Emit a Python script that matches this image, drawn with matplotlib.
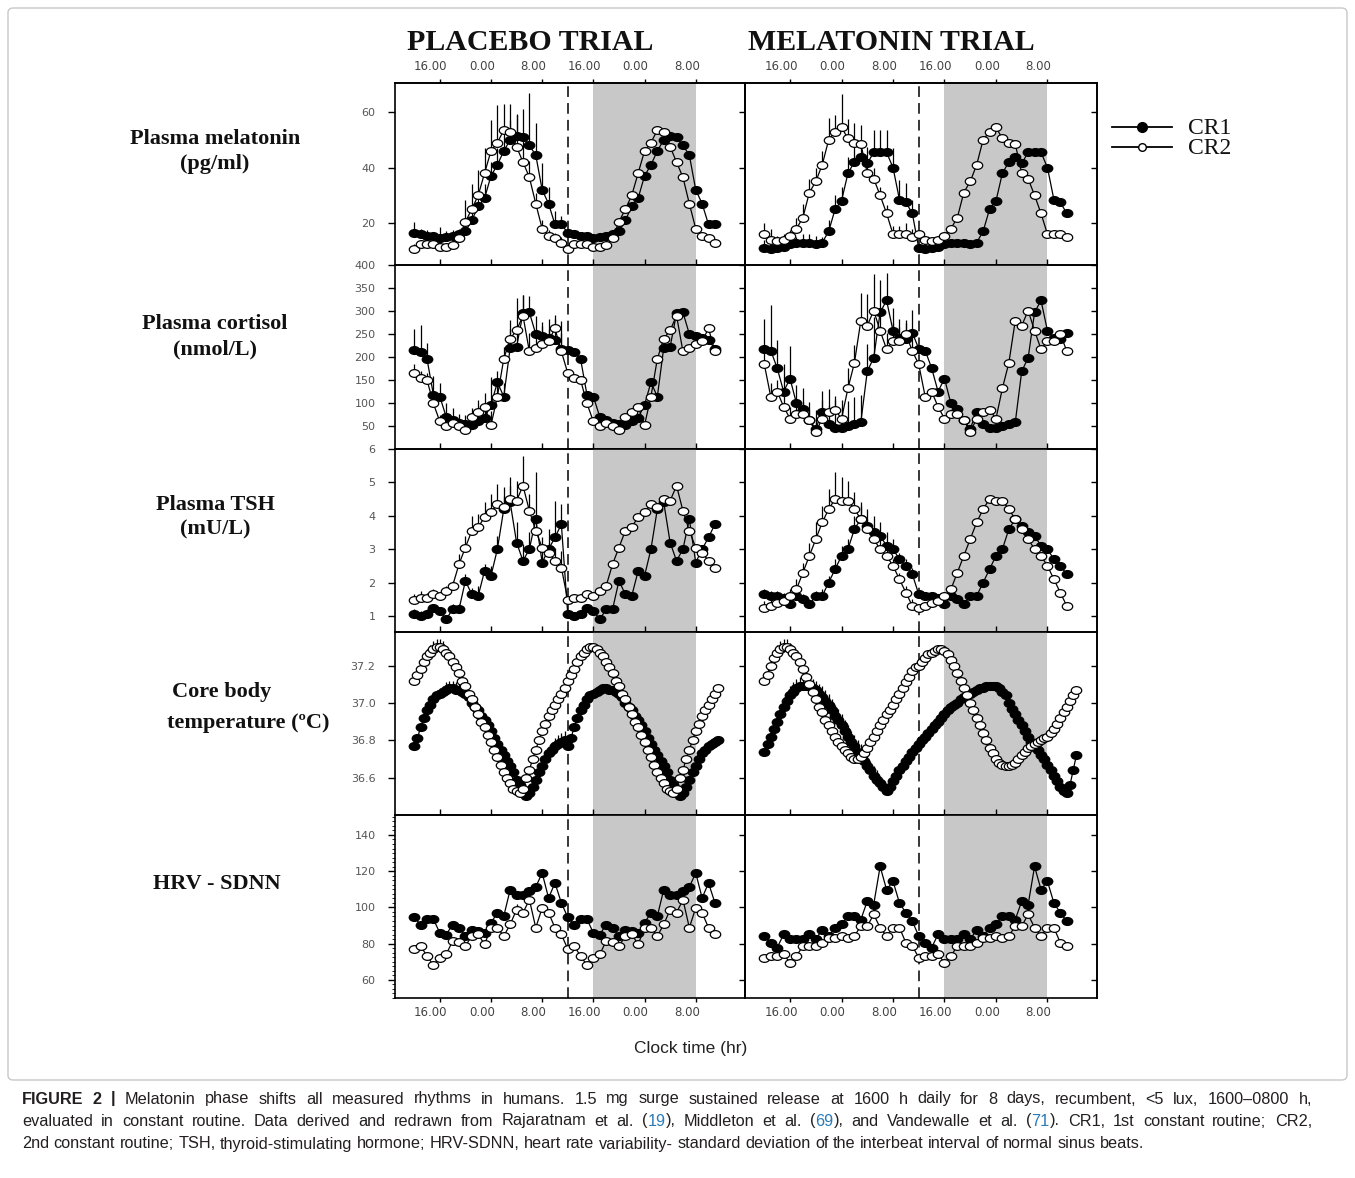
import re
import numpy as np
import matplotlib
matplotlib.use('Agg')
import matplotlib.pyplot as plt
from matplotlib.lines import Line2D
from matplotlib.patches import FancyBboxPatch
from matplotlib.path import Path
from matplotlib.transforms import Affine2D, ScaledTranslation

# ---- data (clock hours; 24 = midnight, data double-plotted 24 h later) ----
hours = np.arange(12, 36, 1.0)
temp_hours = np.arange(12, 36, 0.5)
temp_hours_b = np.arange(36, 61, 0.5)

xtick_pos = [16, 24, 32, 40, 48, 56]
xtick_lab = ['16.00', '0.00', '8.00', '16.00', '0.00', '8.00']

# plasma melatonin (pg/ml)
pl_mel_cr1 = [16.5, 16, 15.5, 15.5, 14.5, 15, 15.5, 16, 17, 21, 26, 29, 37, 41, 46, 50, 51.5, 51, 48, 44.5, 32, 27, 19.5, 19.5]
pl_mel_cr2 = [10.5, 12.5, 12.5, 12.5, 11.5, 11.5, 12, 14.5, 20.5, 25, 30, 38, 46, 49, 53.5, 53, 47.5, 42, 36.5, 27, 18, 15.5, 14.5, 13]
pl_mel_cr1_err = [4, 2, 2, 1, 4, 2, 2, 2, 2, 4, 5, 5, 5, 6, 6, 7, 8, 10, 19, 11.5, 9.5, 6, 5, 3]
pl_mel_cr2_err = [2, 1, 1, 1, 1, 1, 2, 3, 8, 9, 9, 9, 11, 13.5, 9.5, 10, 11.5, 8, 6, 4, 3, 2, 2, 2]
ml_mel_cr1 = [11, 10.5, 11, 11.5, 12.5, 13, 13, 13, 12.5, 13, 17, 25, 28, 38, 42, 44, 41.5, 45.5, 45.5, 45.5, 40, 28.5, 27.5, 23.5]
ml_mel_cr2 = [16, 14, 13.5, 14, 15.5, 18, 22, 31, 35, 41, 50, 53, 54.5, 50.5, 49, 48.5, 38, 36, 30, 23.5, 16, 16, 16, 15]
ml_mel_cr1_err = [3, 1, 2, 1, 2, 2, 3, 3, 3, 2, 4, 5, 5, 6, 6, 6, 6, 8, 8, 8, 7, 7, 7, 5]
ml_mel_cr2_err = [4, 4, 2, 2, 2, 4, 5, 5, 5, 5, 8, 6, 12, 7, 7, 7, 4, 4, 3, 3, 3, 3, 4, 3]

# plasma cortisol (nmol/L)
pl_cort_cr1 = [216, 210, 196, 118, 114, 70, 64, 56, 54, 52, 60, 68, 96, 145, 114, 220, 222, 295, 297, 250, 246, 242, 236, 218]
pl_cort_cr2 = [165, 154, 150, 99, 60, 50, 56, 50, 41, 70, 81, 92, 52, 114, 196, 240, 258, 290, 212, 220, 228, 235, 262, 212]
pl_cort_cr1_err = [45, 60, 35, 40, 30, 30, 25, 20, 20, 25, 25, 30, 60, 25, 30, 40, 45, 40, 35, 40, 30, 40, 55, 60]
pl_cort_cr2_err = [20, 15, 15, 15, 15, 15, 15, 15, 20, 20, 25, 30, 30, 40, 25, 40, 70, 45, 40, 35, 40, 25, 20, 40]
ml_cort_cr1 = [218, 214, 176, 125, 153, 99, 88, 63, 44, 81, 55, 46, 46, 50, 54, 58, 169, 198, 297, 323, 257, 242, 240, 253]
ml_cort_cr2 = [184, 114, 125, 92, 66, 77, 77, 63, 37, 66, 81, 85, 66, 132, 187, 279, 268, 301, 257, 217, 235, 235, 250, 213]
ml_cort_cr1_err = [65, 100, 60, 60, 70, 40, 45, 40, 40, 45, 40, 60, 45, 55, 60, 60, 60, 90, 70, 60, 50, 40, 40, 50]
ml_cort_cr2_err = [30, 30, 25, 25, 25, 25, 25, 25, 30, 40, 50, 30, 40, 45, 40, 60, 70, 80, 40, 35, 40, 30, 25, 30]

# plasma TSH (mU/L)
pl_tsh_cr1 = [1.05, 1.0, 1.05, 1.25, 1.15, 0.9, 1.2, 1.2, 2.05, 1.65, 1.6, 2.35, 2.2, 3.0, 4.2, 4.4, 3.2, 2.65, 3.0, 3.9, 2.6, 3.0, 3.35, 3.75]
pl_tsh_cr2 = [1.47, 1.55, 1.55, 1.65, 1.6, 1.75, 1.9, 2.55, 3.05, 3.55, 3.65, 3.97, 4.1, 4.35, 4.25, 4.5, 4.45, 4.9, 4.15, 3.55, 3.05, 2.9, 2.65, 2.45]
pl_tsh_cr1_err = [0.15, 0.15, 0.15, 0.1, 0.1, 0.1, 0.15, 0.15, 0.2, 0.2, 0.3, 0.2, 0.3, 0.4, 0.4, 0.5, 0.6, 0.5, 0.5, 1.4, 0.5, 0.6, 1.1, 0.6]
pl_tsh_cr2_err = [0.2, 0.2, 0.15, 0.15, 0.1, 0.15, 0.15, 0.3, 0.35, 0.45, 0.4, 0.45, 0.55, 0.6, 0.6, 0.65, 0.6, 0.9, 0.5, 0.4, 0.3, 0.3, 0.4, 0.5]
ml_tsh_cr1 = [1.65, 1.6, 1.6, 1.55, 1.35, 1.6, 1.5, 1.35, 1.6, 1.6, 2.0, 2.4, 2.8, 3.0, 3.6, 3.9, 3.7, 3.5, 3.4, 3.1, 3.0, 2.7, 2.5, 2.25]
ml_tsh_cr2 = [1.25, 1.3, 1.4, 1.45, 1.6, 1.8, 2.3, 2.8, 3.3, 3.8, 4.2, 4.5, 4.45, 4.45, 4.2, 3.9, 3.6, 3.3, 3.0, 2.8, 2.5, 2.1, 1.7, 1.3]
ml_tsh_cr1_err = [0.15, 0.15, 0.15, 0.15, 0.15, 0.15, 0.15, 0.15, 0.15, 0.2, 0.2, 0.3, 0.3, 0.3, 0.4, 0.5, 0.5, 0.5, 0.4, 0.4, 0.3, 0.2, 0.2, 0.2]
ml_tsh_cr2_err = [0.2, 0.2, 0.2, 0.2, 0.2, 0.3, 0.3, 0.4, 0.5, 0.5, 0.6, 0.8, 0.7, 0.6, 0.5, 0.4, 0.3, 0.3, 0.3, 0.2, 0.2, 0.2, 0.2, 0.2]

# core body temperature (deg C), half-hourly
pl_temp_cr1 = [36.77, 36.81, 36.87, 36.92, 36.96, 36.99, 37.02, 37.04, 37.05, 37.06,
               37.07, 37.08, 37.08, 37.07, 37.07, 37.06, 37.05, 37.03, 37.00, 36.98,
               36.96, 36.93, 36.91, 36.88, 36.85, 36.81, 36.78, 36.75, 36.72, 36.69,
               36.66, 36.63, 36.59, 36.56, 36.52, 36.50, 36.52, 36.55, 36.59, 36.63,
               36.66, 36.70, 36.73, 36.75, 36.77, 36.78, 36.79, 36.80]
pl_temp_cr2 = [37.12, 37.15, 37.18, 37.22, 37.25, 37.27, 37.29, 37.30, 37.30, 37.29,
               37.27, 37.25, 37.22, 37.19, 37.16, 37.12, 37.09, 37.05, 37.02, 36.98,
               36.94, 36.90, 36.87, 36.83, 36.79, 36.75, 36.71, 36.67, 36.63, 36.60,
               36.57, 36.54, 36.53, 36.52, 36.54, 36.60, 36.64, 36.70, 36.75, 36.80,
               36.85, 36.89, 36.93, 36.96, 36.99, 37.02, 37.05, 37.08]
pl_temp_cr1_err = [0.01, 0.01, 0.01, 0.02, 0.02, 0.02, 0.02, 0.03, 0.03, 0.03,
                   0.04, 0.04, 0.04, 0.04, 0.03, 0.03, 0.03, 0.03, 0.03, 0.03,
                   0.03, 0.03, 0.03, 0.03, 0.03, 0.03, 0.03, 0.03, 0.03, 0.03,
                   0.02, 0.02, 0.02, 0.02, 0.02, 0.02, 0.02, 0.02, 0.02, 0.02,
                   0.03, 0.03, 0.03, 0.04, 0.04, 0.05, 0.05, 0.05]
pl_temp_cr2_err = [0.01, 0.01, 0.02, 0.03, 0.04, 0.04, 0.04, 0.04, 0.04, 0.04,
                   0.03, 0.03, 0.03, 0.02, 0.02, 0.02, 0.02, 0.02, 0.02, 0.03,
                   0.03, 0.03, 0.04, 0.04, 0.05, 0.05, 0.05, 0.06, 0.06, 0.06,
                   0.06, 0.05, 0.04, 0.03, 0.02, 0.02, 0.02, 0.02, 0.02, 0.02,
                   0.02, 0.02, 0.02, 0.02, 0.02, 0.02, 0.02, 0.02]
ml_temp_cr1 = [36.74, 36.78, 36.82, 36.86, 36.90, 36.94, 36.98, 37.01, 37.04, 37.06,
               37.08, 37.09, 37.09, 37.09, 37.09, 37.08, 37.07, 37.05, 37.03, 37.01,
               36.99, 36.96, 36.93, 36.91, 36.88, 36.85, 36.82, 36.79, 36.77, 36.74,
               36.72, 36.69, 36.66, 36.64, 36.61, 36.59, 36.57, 36.55, 36.53, 36.55,
               36.58, 36.61, 36.64, 36.66, 36.69, 36.71, 36.74, 36.76]
ml_temp_cr2 = [37.12, 37.15, 37.20, 37.24, 37.27, 37.29, 37.30, 37.30, 37.29, 37.27,
               37.25, 37.22, 37.18, 37.14, 37.10, 37.06, 37.02, 36.98, 36.95, 36.91,
               36.88, 36.85, 36.82, 36.79, 36.77, 36.75, 36.73, 36.71, 36.70, 36.70,
               36.71, 36.73, 36.76, 36.79, 36.82, 36.85, 36.88, 36.91, 36.94, 36.96,
               36.99, 37.02, 37.05, 37.08, 37.11, 37.14, 37.17, 37.19]
ml_temp_cr1_err = [0.02, 0.02, 0.03, 0.03, 0.04, 0.04, 0.05, 0.05, 0.05, 0.05,
                   0.05, 0.05, 0.05, 0.05, 0.05, 0.05, 0.05, 0.05, 0.06, 0.06,
                   0.06, 0.06, 0.06, 0.06, 0.06, 0.06, 0.06, 0.06, 0.06, 0.06,
                   0.06, 0.06, 0.06, 0.05, 0.05, 0.05, 0.04, 0.04, 0.03, 0.03,
                   0.03, 0.03, 0.03, 0.03, 0.03, 0.02, 0.02, 0.02]
ml_temp_cr2_err = [0.02, 0.03, 0.03, 0.04, 0.04, 0.04, 0.04, 0.04, 0.03, 0.03,
                   0.03, 0.03, 0.02, 0.02, 0.02, 0.02, 0.02, 0.02, 0.02, 0.02,
                   0.02, 0.02, 0.02, 0.02, 0.02, 0.02, 0.02, 0.02, 0.02, 0.02,
                   0.02, 0.02, 0.02, 0.02, 0.02, 0.02, 0.02, 0.02, 0.02, 0.02,
                   0.02, 0.02, 0.02, 0.02, 0.02, 0.02, 0.02, 0.02]
# melatonin-trial temperature: second plotted day differs from the first
ml_temp_cr1_b = [36.78, 36.80, 36.82, 36.84, 36.86, 36.88, 36.90, 36.92, 36.94, 36.96,
                 36.98, 36.99, 37.00, 37.02, 37.03, 37.04, 37.05, 37.06, 37.07, 37.08,
                 37.08, 37.09, 37.09, 37.09, 37.09, 37.08, 37.06, 37.04, 37.00, 36.97,
                 36.94, 36.91, 36.88, 36.85, 36.82, 36.79, 36.77, 36.75, 36.72, 36.70,
                 36.67, 36.64, 36.61, 36.58, 36.55, 36.53, 36.52, 36.56, 36.64, 36.72]
ml_temp_cr2_b = [37.20, 37.22, 37.24, 37.26, 37.27, 37.28, 37.29, 37.29, 37.28, 37.26,
                 37.23, 37.20, 37.16, 37.12, 37.08, 37.04, 37.00, 36.96, 36.92, 36.88,
                 36.84, 36.80, 36.76, 36.73, 36.70, 36.68, 36.67, 36.66, 36.66, 36.67,
                 36.68, 36.70, 36.72, 36.74, 36.76, 36.77, 36.78, 36.79, 36.80, 36.81,
                 36.82, 36.84, 36.86, 36.89, 36.92, 36.95, 36.98, 37.01, 37.04, 37.07]

# HRV - SDNN (ms)
pl_hrv_cr1 = [94.5, 90.5, 93.5, 93.5, 86, 85, 90.5, 88.8, 84.2, 87.8, 86.9, 86, 91.5, 97, 95.2, 109.8, 107, 107, 109, 111.3, 119, 105.2, 113.5, 102.5]
pl_hrv_cr2 = [77, 78.7, 73.2, 68.1, 72.3, 74.1, 81.4, 80.9, 78.7, 84.2, 85.1, 79.6, 88.8, 88.8, 84.2, 90.6, 98.8, 97, 104.3, 88.8, 99.7, 97, 88.8, 85.1]
pl_hrv_cr1_err = [1, 1, 1, 1, 1, 2, 2, 1, 1, 1, 1, 1, 2, 2, 2, 2, 2, 2, 2, 2, 2, 2, 2, 2]
pl_hrv_cr2_err = [1, 1, 1, 1, 1, 1, 1, 1, 1, 1, 1, 1, 1, 1, 1, 1, 3, 1, 1, 1, 1, 1, 1, 1]
ml_hrv_cr1 = [84.2, 80.5, 77.8, 85.1, 82.3, 82.3, 82.3, 85.1, 82.3, 87.8, 84.2, 88.8, 90.6, 95.2, 95.2, 93.3, 103.4, 101.6, 122.6, 109.8, 114.4, 102.5, 97, 92.4]
ml_hrv_cr2 = [72.3, 73.2, 73.2, 74.1, 69.5, 73.2, 78.7, 78.7, 78.7, 80.5, 83.3, 83.3, 84.2, 83.3, 84.2, 89.7, 89.7, 96.1, 88.8, 84.2, 88.8, 88.8, 80.5, 78.7]
ml_hrv_cr1_err = [1, 1, 1, 1, 1, 1, 1, 2, 1, 2, 1, 1, 1, 1, 1, 1, 2, 1, 2, 1, 1, 1, 1, 1]
ml_hrv_cr2_err = [1, 1, 1, 1, 1, 1, 1, 1, 1, 1, 1, 1, 1, 1, 1, 1, 1, 1, 1, 1, 1, 1, 1, 1]

row_labels = [['Plasma melatonin', '(pg/ml)'], ['Plasma cortisol', '(nmol/L)'],
              ['Plasma TSH', '(mU/L)'], ['Core body', 'temperature (\u00baC)'], ['HRV - SDNN']]
row_ylim = [(4.9, 70.5), (0, 400), (0.52, 6), (36.4, 37.38), (50, 151)]
row_yticks = [[20, 40, 60], [50, 100, 150, 200, 250, 300, 350, 400], [1, 2, 3, 4, 5, 6],
              [36.6, 36.8, 37.0, 37.2], [60, 80, 100, 120, 140]]
row_yticklabels = [None, None, None, ['36.6', '36.8', '37.0', '37.2'], None]

caption_lines = [
    'FIGURE 2 | Melatonin phase shifts all measured rhythms in humans. 1.5 mg surge sustained '
    'release at 1600 h daily for 8 days, recumbent, <5 lux, 1600\u20130800 h,',
    'evaluated in constant routine. Data derived and redrawn from Rajaratnam et al. ({19}), '
    'Middleton et al. ({69}), and Vandewalle et al. ({71}). CR1, 1st constant routine; CR2,',
    '2nd constant routine; TSH, thyroid-stimulating hormone; HRV-SDNN, heart rate variability- '
    'standard deviation of the interbeat interval of normal sinus beats.',
]

# ---- figure ----
W, H = 1355, 1178
fig = plt.figure(figsize=(W / 100, H / 100), dpi=100)


def fx(px):
    return px / W


def fy(py):
    return 1 - py / H


ELLIPSE = Path.unit_circle().transformed(Affine2D().scale(1.35, 1.0))
SHADE = '#c8c8c8'


def draw_panel(ax, t, cr1, cr2, e1, e2, tb=None, cr1b=None, cr2b=None):
    ax.axvspan(40, 56, color=SHADE, lw=0, zorder=0)
    ax.axvline(36, color='black', lw=1.1, ls=(0, (7, 4)), zorder=1)
    t = np.asarray(t)
    z = np.zeros(len(t))
    ax.errorbar(t, cr1, yerr=[z, e1], fmt='none', ecolor='black', elinewidth=0.9, capsize=0, zorder=2)
    ax.errorbar(t, cr2, yerr=[z, e2], fmt='none', ecolor='black', elinewidth=0.9, capsize=0, zorder=2)
    if tb is None:
        tb, cr1b, cr2b = t + 24, cr1, cr2
    tt = np.concatenate([t, tb])
    ax.plot(tt, np.concatenate([cr1, cr1b]), color='black', lw=0.9, marker=ELLIPSE, ms=7.5,
            mfc='black', mec='black', zorder=3)
    ax.plot(tt, np.concatenate([cr2, cr2b]), color='black', lw=0.9, marker=ELLIPSE, ms=7.5,
            mfc='white', mec='black', mew=0.9, zorder=4)


panels = [
    [(hours, pl_mel_cr1, pl_mel_cr2, pl_mel_cr1_err, pl_mel_cr2_err),
     (hours, ml_mel_cr1, ml_mel_cr2, ml_mel_cr1_err, ml_mel_cr2_err)],
    [(hours, pl_cort_cr1, pl_cort_cr2, pl_cort_cr1_err, pl_cort_cr2_err),
     (hours, ml_cort_cr1, ml_cort_cr2, ml_cort_cr1_err, ml_cort_cr2_err)],
    [(hours, pl_tsh_cr1, pl_tsh_cr2, pl_tsh_cr1_err, pl_tsh_cr2_err),
     (hours, ml_tsh_cr1, ml_tsh_cr2, ml_tsh_cr1_err, ml_tsh_cr2_err)],
    [(temp_hours, pl_temp_cr1, pl_temp_cr2, pl_temp_cr1_err, pl_temp_cr2_err),
     (temp_hours, ml_temp_cr1, ml_temp_cr2, ml_temp_cr1_err, ml_temp_cr2_err,
      temp_hours_b, ml_temp_cr1_b, ml_temp_cr2_b)],
    [(hours, pl_hrv_cr1, pl_hrv_cr2, pl_hrv_cr1_err, pl_hrv_cr2_err),
     (hours, ml_hrv_cr1, ml_hrv_cr2, ml_hrv_cr1_err, ml_hrv_cr2_err)],
]

col_x = [(395, 745), (745, 1097)]
row_y = [(83, 265), (265, 449), (449, 632), (632, 815), (815, 998)]
lab_shift = ScaledTranslation(-0.09, 0, fig.dpi_scale_trans)
tick_font = dict(fontsize=8.5, color='#444444', family='DejaVu Sans')

for r in range(5):
    for c in range(2):
        x0, x1 = col_x[c]
        y0, y1 = row_y[r]
        ax = fig.add_axes([fx(x0), fy(y1), (x1 - x0) / W, (y1 - y0) / H])
        ax.set_facecolor('none')
        draw_panel(ax, *panels[r][c])
        ax.set_xlim(9.0, 63.7)
        ax.set_ylim(*row_ylim[r])
        for s in ax.spines.values():
            s.set_linewidth(1.2)

        # y axis: labelled outward ticks on the left column, inward ticks on every right edge
        ax.set_yticks(row_yticks[r])
        if c == 0:
            if row_yticklabels[r]:
                ax.set_yticklabels(row_yticklabels[r])
            ax.tick_params(axis='y', direction='out', length=5, width=1, pad=9,
                           labelsize=8, labelcolor='#555555')
        else:
            ax.tick_params(axis='y', left=False, labelleft=False)
        sec = ax.secondary_yaxis('right')
        sec.set_yticks(row_yticks[r])
        sec.tick_params(direction='in', length=4, width=1, labelright=False)
        sec.spines['right'].set_linewidth(1.2)
        if r == 4:
            ax.yaxis.set_minor_locator(matplotlib.ticker.MultipleLocator(2.5))
            ax.tick_params(axis='y', which='minor', direction='out', length=2.5,
                           left=(c == 0))

        # x axis
        ax.set_xticks(xtick_pos)
        if r == 4:
            ax.set_xticklabels(xtick_lab, **tick_font)
            ax.tick_params(axis='x', direction='out', length=3, width=1, pad=3)
            for lab in ax.get_xticklabels():
                lab.set_transform(lab.get_transform() + lab_shift)
        else:
            ax.set_xticklabels([])
            ax.tick_params(axis='x', direction='in', length=4, width=1)
        if r == 0:
            top = ax.secondary_xaxis('top')
            top.set_xticks(xtick_pos)
            top.set_xticklabels(xtick_lab, **tick_font)
            top.tick_params(direction='out', length=3, width=1, pad=4)
            top.spines['top'].set_linewidth(1.2)
            for lab in top.get_xticklabels():
                lab.set_transform(lab.get_transform() + lab_shift)

# ---- titles and row labels ----
serif_b = dict(family='Liberation Serif', weight='bold', color='#111111')
fig.text(fx(530), fy(43), 'PLACEBO TRIAL', ha='center', va='center', fontsize=21.5, **serif_b)
fig.text(fx(891), fy(43), 'MELATONIN TRIAL', ha='center', va='center', fontsize=21.5, **serif_b)

label_pos = [[(215, 139), (215, 164)], [(215, 324), (215, 349)], [(215, 505), (215, 529)],
             [(222, 692), (248, 723)], [(217, 884)]]
for lines, pos in zip(row_labels, label_pos):
    for txt, (px, py) in zip(lines, pos):
        fig.text(fx(px), fy(py), txt, ha='center', va='center', fontsize=16, **serif_b)

# ---- legend ----
for label, py, face, ms in [('CR1', 127, 'black', 7), ('CR2', 147, 'white', 5.5)]:
    fig.add_artist(Line2D([fx(1112), fx(1172)], [fy(py), fy(py)], color='black', lw=1.3,
                          transform=fig.transFigure))
    fig.add_artist(Line2D([fx(1142)], [fy(py)], marker='o', ms=ms, mfc=face, mec='black',
                          mew=1, transform=fig.transFigure))
    fig.text(fx(1188), fy(py + 1), label, ha='left', va='center', fontsize=17,
             family='Liberation Serif', color='#111111')

fig.text(fx(691), fy(1048), 'Clock time (hr)', ha='center', va='center', fontsize=12.5,
         family='Liberation Sans', color='#222222')

# ---- frame and caption (first two lines justified) ----
fig.add_artist(FancyBboxPatch((fx(8), fy(1080)), fx(1339), (1080 - 8) / H,
                              boxstyle='round,pad=0,rounding_size=0.004', fill=False,
                              ec='#c8c8c8', lw=1, transform=fig.transFigure))

renderer = fig.canvas.get_renderer()
cap = dict(fontsize=11.7, family='Liberation Sans', color='#231f20', va='center', ha='left')
blue = '#2b7bb9'


def width_of(t):
    return t.get_window_extent(renderer).width


probe = [fig.text(0, 0, s, **cap) for s in ['x x', 'xx']]
space_w = width_of(probe[0]) - width_of(probe[1])
for p in probe:
    p.remove()

for li, (line, py) in enumerate(zip(caption_lines, [1099, 1121, 1144])):
    words = []
    for wi, word in enumerate(line.split(' ')):
        segs = []
        for part in re.split(r'(\{[^}]*\})', word):
            if not part:
                continue
            style = dict(cap)
            if part.startswith('{'):
                part = part[1:-1]
                style['color'] = blue
            if li == 0 and wi < 3:
                style['weight'] = 'bold'
            segs.append(fig.text(0, fy(py), part, **style))
        words.append(segs)
    wsum = [sum(width_of(s) for s in segs) for segs in words]
    if li < 2:
        gap = (1290 - sum(wsum)) / (len(words) - 1)
    else:
        gap = space_w
    x = 22.0
    for segs, ww in zip(words, wsum):
        xs = x
        for s in segs:
            s.set_position((fx(xs), fy(py)))
            xs += width_of(s)
        x += ww + gap

fig.savefig('out.png', dpi=100)
